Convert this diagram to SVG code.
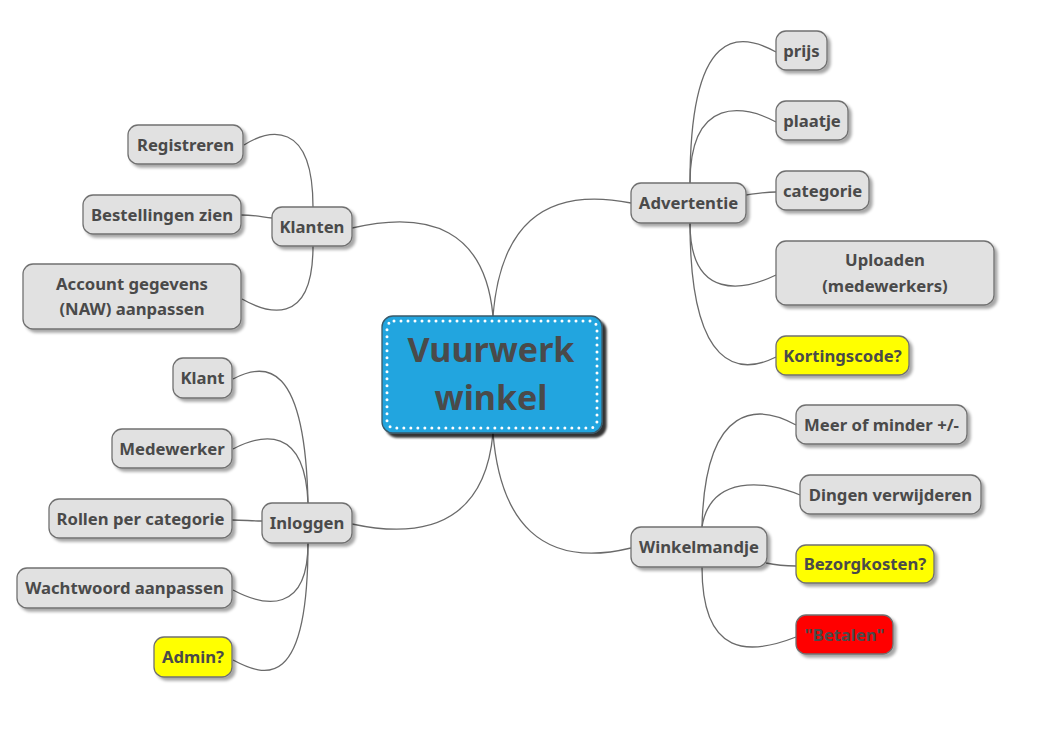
<svg xmlns="http://www.w3.org/2000/svg" width="1053" height="735" viewBox="0 0 1053 735">
<defs>
<filter id="sh" x="-20%" y="-20%" width="150%" height="160%">
<feDropShadow dx="3" dy="3" stdDeviation="1.5" flood-color="#000" flood-opacity="0.35"/>
</filter>
<filter id="shc" x="-10%" y="-10%" width="130%" height="130%">
<feDropShadow dx="4" dy="4" stdDeviation="1" flood-color="#000" flood-opacity="0.8"/>
</filter>
</defs>
<style>
.n rect{fill:#e1e1e1;stroke:#707070;stroke-width:1.3;filter:url(#sh)}
.n.y rect{fill:#ffff00}
.n.r rect{fill:#ff0000}
text{font-family:"Noto Sans","Open Sans","DejaVu Sans",sans-serif;font-weight:bold;font-size:16.7px;fill:#4a4a4a;text-anchor:middle}
.c path{fill:none;stroke:#6a6a6a;stroke-width:1.3}
</style>
<rect width="1053" height="735" fill="#fff"/>
<g class="c" id="connectors">
<path d="M352,228 C430,210 485,230 493,316"/>
<path d="M631,203 C540,185 500,230 493,316"/>
<path d="M352,524 C450,545 487,500 493,433"/>
<path d="M493,433 C500,520 540,570 631,548"/>
<path d="M244,145 C268,130 313,118 313,207"/>
<path d="M241,215 C255,215 262,217 272,218"/>
<path d="M242,299 C265,312 313,330 313,246"/>
<path d="M776,52 C740,32 690,25 690,183"/>
<path d="M776,122 C745,105 690,95 690,183"/>
<path d="M746,195 C760,193 765,192 776,192"/>
<path d="M776,275 C745,290 690,302 690,223"/>
<path d="M776,357 C740,375 690,372 690,223"/>
<path d="M796,425 C760,405 705,400 702,527"/>
<path d="M800,495 C765,480 710,475 702,527"/>
<path d="M766,563 C780,566 785,566 796,566"/>
<path d="M796,637 C750,655 702,658 702,567"/>
<path d="M233,379 C265,362 305,360 308,503"/>
<path d="M233,449 C262,434 305,425 308,503"/>
<path d="M232,520 C245,520 250,521 262,521"/>
<path d="M233,590 C265,607 308,614 308,543"/>
<path d="M233,660 C265,677 308,692 308,543"/>
</g>
<g id="center">
<rect x="382" y="316" width="220" height="117" rx="11" fill="#22a5df" stroke="#3a5a6a" stroke-width="1.3" filter="url(#shc)"/>
<rect x="387" y="321" width="210" height="107" rx="7" fill="none" stroke="#fff" stroke-width="3" stroke-linecap="round" stroke-dasharray="0 7"/>
<text x="491" y="362" style="font-size:34px">Vuurwerk</text>
<text x="491" y="410" style="font-size:34px">winkel</text>
</g>
<g class="n" id="klanten"><rect x="272" y="207" width="80" height="39" rx="10"/><text x="312" y="233">Klanten</text></g>
<g class="n" id="registreren"><rect x="128" y="125" width="115" height="39" rx="10"/><text x="185.5" y="151">Registreren</text></g>
<g class="n" id="bestellingen"><rect x="83" y="195" width="158" height="39" rx="10"/><text x="162" y="221">Bestellingen zien</text></g>
<g class="n" id="account"><rect x="23" y="264" width="218" height="65" rx="10"/><text x="132" y="290">Account gegevens</text><text x="132" y="315">(NAW) aanpassen</text></g>
<g class="n" id="inloggen"><rect x="262" y="503" width="90" height="40" rx="10"/><text x="307" y="529">Inloggen</text></g>
<g class="n" id="klant"><rect x="173" y="358" width="59" height="40" rx="10"/><text x="202.5" y="384">Klant</text></g>
<g class="n" id="medewerker"><rect x="112" y="429" width="120" height="39" rx="10"/><text x="172" y="455">Medewerker</text></g>
<g class="n" id="rollen"><rect x="49" y="499" width="183" height="39" rx="10"/><text x="140.5" y="525">Rollen per categorie</text></g>
<g class="n" id="wachtwoord"><rect x="17" y="568" width="215" height="40" rx="10"/><text x="124.5" y="594">Wachtwoord aanpassen</text></g>
<g class="n y" id="admin"><rect x="154" y="637" width="78" height="40" rx="10"/><text x="193" y="663">Admin?</text></g>
<g class="n" id="advertentie"><rect x="631" y="183" width="115" height="40" rx="10"/><text x="688.5" y="209">Advertentie</text></g>
<g class="n" id="prijs"><rect x="776" y="31" width="51" height="39" rx="10"/><text x="801.5" y="57">prijs</text></g>
<g class="n" id="plaatje"><rect x="776" y="101" width="72" height="39" rx="10"/><text x="812" y="127">plaatje</text></g>
<g class="n" id="categorie"><rect x="776" y="171" width="93" height="39" rx="10"/><text x="822.5" y="197">categorie</text></g>
<g class="n" id="uploaden"><rect x="776" y="241" width="218" height="64" rx="10"/><text x="885" y="266">Uploaden</text><text x="885" y="292">(medewerkers)</text></g>
<g class="n y" id="kortingscode"><rect x="776" y="336" width="133" height="39" rx="10"/><text x="842.5" y="362">Kortingscode?</text></g>
<g class="n" id="winkelmandje"><rect x="631" y="527" width="136" height="40" rx="10"/><text x="699" y="553">Winkelmandje</text></g>
<g class="n" id="meer"><rect x="796" y="405" width="171" height="39" rx="10"/><text x="881.5" y="431">Meer of minder +/-</text></g>
<g class="n" id="dingen"><rect x="800" y="475" width="181" height="39" rx="10"/><text x="890.5" y="501">Dingen verwijderen</text></g>
<g class="n y" id="bezorgkosten"><rect x="796" y="545" width="138" height="38" rx="10"/><text x="865" y="570">Bezorgkosten?</text></g>
<g class="n r" id="betalen"><rect x="796" y="615" width="97" height="39" rx="10"/><text x="844.5" y="641">"Betalen"</text></g>
</svg>
